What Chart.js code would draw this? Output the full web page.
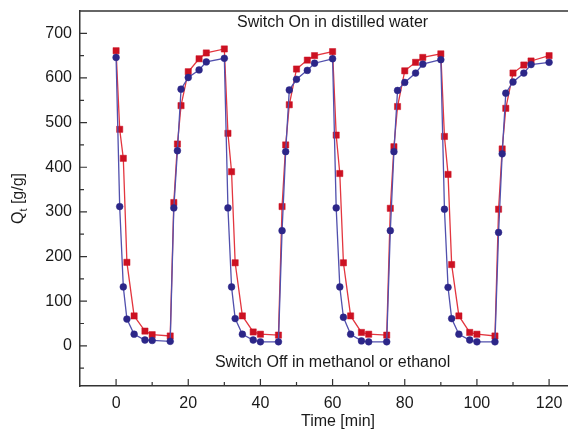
<!DOCTYPE html>
<html>
<head>
<meta charset="utf-8">
<script src="https://cdn.jsdelivr.net/npm/chart.js@4/dist/chart.umd.min.js"></script>
<style>
html,body{margin:0;padding:0;background:#fff;overflow:hidden;}
#wrap{width:610px;height:430px;}
</style>
</head>
<body>
<div id="wrap"><canvas id="c" width="610" height="430"></canvas></div>
<script>
// Time points [min]
const times = [0,1,2,3,5,8,10,15,16,17,18,20,23,25,
               30,31,32,33,35,38,40,45,46,47,48,50,53,55,
               60,61,62,63,65,68,70,75,76,77,78,80,83,85,
               90,91,92,93,95,98,100,105,106,107,108,110,113,115,
               120];
// Red squares series Qt [g/g]
const redValues = [661,485,420,187,67,33,25,22,321,452,538,614,643,656,
                   665,476,390,186,67,31,26,24,312,450,540,620,640,650,
                   659,472,386,186,67,30,26,24,308,446,536,616,635,646,
                   654,469,384,182,67,30,26,22,306,441,532,611,629,638,
                   650];
// Blue circles series Qt [g/g]
const blueValues = [646,312,132,60,26,13,12,10,309,437,575,601,618,636,
                    644,309,132,61,26,13,9,9,258,435,573,597,617,633,
                    643,309,132,64,26,11,9,9,258,435,572,590,611,631,
                    641,306,131,61,26,13,9,9,254,430,566,591,611,630,
                    635];
const yMajorTicks = [0,100,200,300,400,500,600,700];
const yMinorTicks = [-50,50,150,250,350,450,550,650];
const xMajorTicks = [0,20,40,60,80,100,120];
const xMinorTicks = [10,30,50,70,90,110,130];
const annotations = [
  {text:'Switch On in distilled water', x:60, y:723},
  {text:'Switch Off in methanol or ethanol', x:60, y:-37}
];

const FONT = '"Liberation Sans", Arial, Helvetica, sans-serif';
const AXIS = '#333333';

const customDraw = {
  id:'customDraw',
  afterDraw(chart){
    const ctx = chart.ctx, xs = chart.scales.x, ys = chart.scales.y, a = chart.chartArea;
    ctx.save();
    ctx.strokeStyle = AXIS;
    ctx.lineWidth = 1.5;
    ctx.beginPath(); ctx.moveTo(a.left, a.top); ctx.lineTo(a.right, a.top); ctx.stroke();
    ctx.lineWidth = 1.2;
    ctx.beginPath();
    yMajorTicks.forEach(v=>{const p=ys.getPixelForValue(v); ctx.moveTo(a.left,p); ctx.lineTo(a.left+7,p);});
    yMinorTicks.forEach(v=>{const p=ys.getPixelForValue(v); ctx.moveTo(a.left,p); ctx.lineTo(a.left+4,p);});
    xMajorTicks.forEach(v=>{const p=xs.getPixelForValue(v); ctx.moveTo(p,a.bottom); ctx.lineTo(p,a.bottom-7);});
    xMinorTicks.forEach(v=>{const p=xs.getPixelForValue(v); ctx.moveTo(p,a.bottom); ctx.lineTo(p,a.bottom-4);});
    ctx.stroke();
    ctx.fillStyle = '#1a1a1a';
    ctx.font = '16px ' + FONT;
    ctx.textAlign = 'center'; ctx.textBaseline = 'middle';
    annotations.forEach(t=>{
      ctx.fillText(t.text, xs.getPixelForValue(t.x), ys.getPixelForValue(t.y));
    });
    ctx.fillText('Time [min]', (a.left+a.right)/2, 422);
    ctx.translate(19, (a.top+a.bottom)/2);
    ctx.rotate(-Math.PI/2);
    ctx.textAlign = 'left'; ctx.textBaseline = 'middle';
    ctx.font = '16px ' + FONT;
    const w1 = ctx.measureText('Q').width;
    ctx.font = '11px ' + FONT;
    const w2 = ctx.measureText('t').width;
    ctx.font = '16px ' + FONT;
    const w3 = ctx.measureText(' [g/g]').width;
    let x0 = -(w1+w2+w3)/2;
    ctx.fillText('Q', x0, 0);
    ctx.font = '11px ' + FONT;
    ctx.fillText('t', x0+w1, 5);
    ctx.font = '16px ' + FONT;
    ctx.fillText(' [g/g]', x0+w1+w2, 0);
    ctx.restore();
  }
};

new Chart(document.getElementById('c'), {
  type:'scatter',
  data:{
    datasets:[
      {
        label:'blue',
        data: times.map((t,i)=>({x:t,y:blueValues[i]})),
        showLine:true,
        borderColor:'#5150ad',
        borderWidth:1.3,
        pointStyle:'circle',
        pointRadius:3.4,
        pointBackgroundColor:'#2c2688',
        pointBorderColor:'#2c2688',
        pointBorderWidth:0.5,
        order:1
      },
      {
        label:'red',
        data: times.map((t,i)=>({x:t,y:redValues[i]})),
        showLine:true,
        borderColor:'#e3363f',
        borderWidth:1.3,
        pointStyle:'rect',
        pointRadius:4.4,
        pointBackgroundColor:'#cc1122',
        pointBorderColor:'#cc1122',
        pointBorderWidth:0.5,
        order:2
      }
    ]
  },
  options:{
    responsive:false,
    animation:false,
    devicePixelRatio:1,
    layout:{padding:{left:0,top:11,right:14,bottom:0}},
    plugins:{legend:{display:false},tooltip:{enabled:false}},
    scales:{
      x:{
        type:'linear', min:-10, max:133,
        grid:{display:false, drawTicks:false},
        border:{display:true, color:AXIS, width:1.5},
        afterBuildTicks(s){ s.ticks = xMajorTicks.map(v=>({value:v})); },
        afterFit(s){ s.height = 44; s.paddingLeft = 0; s.paddingRight = 0; },
        ticks:{padding:8, color:'#1a1a1a', font:{family:FONT, size:16}, maxRotation:0, autoSkip:false}
      },
      y:{
        type:'linear', min:-90, max:750,
        grid:{display:false, drawTicks:false},
        border:{display:true, color:AXIS, width:1.5},
        afterBuildTicks(s){ s.ticks = yMajorTicks.map(v=>({value:v})); },
        afterFit(s){ s.width = 80; s.paddingTop = 0; s.paddingBottom = 0; },
        ticks:{padding:8, color:'#1a1a1a', font:{family:FONT, size:16}, autoSkip:false}
      }
    }
  },
  plugins:[customDraw]
});
</script>
</body>
</html>
